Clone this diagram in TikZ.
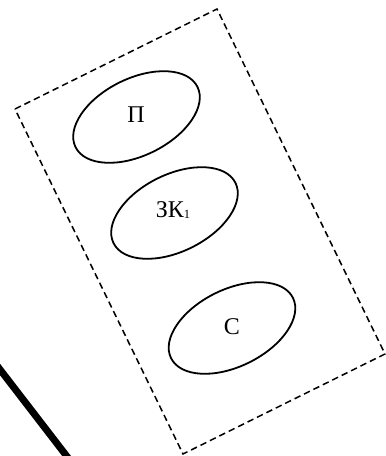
\documentclass[tikz,border=0pt]{standalone}
\usepackage{fontspec}
\setmainfont{Liberation Serif}
\usetikzlibrary{shapes.geometric}
\begin{document}
\begin{tikzpicture}[x=1pt,y=-1pt,
  frame/.style={draw, line width=1.5pt, dash pattern=on 6.5pt off 4pt},
  oval/.style={draw, ellipse, line width=1.8pt, minimum width=136pt, minimum height=77pt, inner sep=0pt, rotate=26.3},
  lbl/.style={inner sep=0pt, font=\fontsize{24}{24}\selectfont},
  bar/.style={line width=7pt}]
\clip (0,0) rectangle (386,456);
% dashed frame
\coordinate (fl) at (15,109);
\coordinate (ft) at (217,9);
\coordinate (fr) at (385,354);
\coordinate (fb) at (183,454);
\draw[frame] (fl) -- (ft) -- (fr) -- (fb) -- cycle;
% ellipses
\node[oval] (e1) at (136.5,117) {};
\node[oval] (e2) at (174.5,213) {};
\node[oval] (e3) at (232,328) {};
% labels
\node[lbl] (t1) at (136,115) {П};
\node[lbl] (t2) at (173,210) {ЗК\raisebox{-1pt}{\fontsize{12.5}{12.5}\selectfont 1}};
\node[lbl] (t3) at (232,327) {С};
% thick line
\coordinate (l1) at (-5,363);
\coordinate (l2) at (72,463);
\draw[bar] (l1) -- (l2);
\end{tikzpicture}
\end{document}
